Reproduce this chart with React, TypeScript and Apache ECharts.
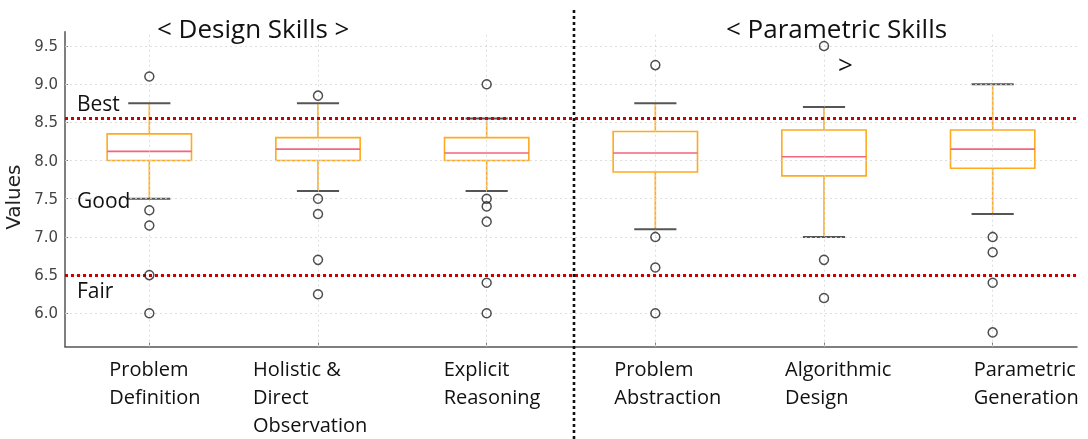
import React, { useEffect, useRef } from "react";
import * as echarts from "echarts";

// ---------- data ----------
const categories = [
  "Problem\nDefinition",
  "Holistic &\nDirect\nObservation",
  "Explicit\nReasoning",
  "Problem\nAbstraction",
  "Algorithmic\nDesign",
  "Parametric\nGeneration",
];
const lowerWhisker = [7.5, 7.6, 7.6, 7.1, 7.0, 7.3];
const q1 = [8.0, 8.0, 8.0, 7.85, 7.8, 7.9];
const median = [8.12, 8.15, 8.1, 8.1, 8.05, 8.15];
const q3 = [8.35, 8.3, 8.3, 8.38, 8.4, 8.4];
const upperWhisker = [8.75, 8.75, 8.55, 8.75, 8.7, 9.0];
const outliers = [
  [9.1, 7.35, 7.15, 6.5, 6.0],
  [8.85, 7.5, 7.3, 6.7, 6.25],
  [9.0, 7.5, 7.4, 7.2, 6.4, 6.0],
  [9.25, 7.0, 6.6, 6.0],
  [9.5, 6.7, 6.2],
  [7.0, 6.8, 6.4, 5.75],
];
const yTicks = [6.0, 6.5, 7.0, 7.5, 8.0, 8.5, 9.0, 9.5];
const yMin = 5.5625;
const yMax = 9.6875;
const bestLevel = 8.56;
const fairLevel = 6.5;
const levelLabels = ["Best", "Good", "Fair"];
const levelLabelValues = [8.75, 7.48, 6.31];
const groupTitles = ["< Design Skills >", "< Parametric Skills", ">"];

// ---------- layout / style ----------
const labelOffsets = [-40, -65, -43, -41, -39, -19];
const ORANGE = "#FFAA1F";
const MEDIAN = "#F2667E";
const CAP = "#555555";
const FONT = "'Open Sans', sans-serif";

export default function App() {
  const ref = useRef<HTMLDivElement>(null);

  useEffect(() => {
    if (!ref.current) return;
    const chart = echarts.init(ref.current, null, { renderer: "svg" });

    const boxData = categories.map((_, i) => [
      i,
      lowerWhisker[i],
      q1[i],
      median[i],
      q3[i],
      upperWhisker[i],
    ]);
    const flierData: number[][] = [];
    outliers.forEach((arr, i) => arr.forEach((v) => flierData.push([i, v])));

    const option: any = {
      animation: false,
      textStyle: { fontFamily: FONT },
      grid: {
        left: 65,
        right: 11,
        top: 31.7,
        bottom: 92.3,
        containLabel: false,
        outerBoundsMode: "none",
      },
      xAxis: {
        type: "category",
        data: categories,
        boundaryGap: true,
        axisLine: { show: true, lineStyle: { color: "#555", width: 1.5 } },
        axisTick: {
          show: true,
          alignWithLabel: true,
          inside: true,
          length: 4,
          lineStyle: { color: "#777" },
        },
        axisLabel: { show: false },
        splitLine: { show: false },
      },
      yAxis: {
        type: "value",
        min: yMin,
        max: yMax,
        name: "Values",
        nameLocation: "middle",
        nameGap: 31,
        nameTextStyle: {
          fontSize: 20,
          color: "#222",
          fontFamily: "DejaVu Sans",
          padding: [0, 16, 0, 0],
        },
        axisLine: { show: true, lineStyle: { color: "#555", width: 1.5 } },
        axisTick: {
          show: true,
          inside: true,
          length: 3,
          customValues: yTicks,
          lineStyle: { color: "#777" },
        },
        axisLabel: {
          customValues: yTicks,
          formatter: (v: number) => v.toFixed(1),
          fontSize: 15,
          color: "#444",
          fontFamily: "DejaVu Sans",
          margin: 7,
        },
        splitLine: { show: false },
      },
      series: [
        {
          type: "scatter",
          name: "grid",
          data: [],
          z: 1,
          silent: true,
          markLine: {
            silent: true,
            symbol: ["none", "none"],
            label: { show: false },
            lineStyle: { color: "#d6d6d6", type: [2, 3], width: 0.8 },
            data: [
              ...yTicks.map((v) => ({ yAxis: v })),
              ...categories.map((_, i) => ({ xAxis: i })),
            ],
          },
        },
        {
          type: "scatter",
          name: "levels",
          data: [],
          z: 3,
          silent: true,
          markLine: {
            silent: true,
            symbol: ["none", "none"],
            label: { show: false },
            lineStyle: { color: "#CC0000", type: [3, 3], width: 3 },
            data: [{ yAxis: bestLevel }, { yAxis: fairLevel }],
          },
        },
        {
          type: "custom",
          name: "box",
          z: 4,
          data: boxData,
          encode: { x: 0, y: [1, 2, 3, 4, 5] },
          renderItem: (params: any, api: any) => {
            const i = api.value(0);
            const low = api.coord([i, api.value(1)]);
            const b1 = api.coord([i, api.value(2)]);
            const md = api.coord([i, api.value(3)]);
            const b3 = api.coord([i, api.value(4)]);
            const high = api.coord([i, api.value(5)]);
            const band = api.size([1, 0])[0];
            const hb = band * 0.25;
            const hc = band * 0.125;
            const cx = low[0];
            return {
              type: "group",
              children: [
                {
                  type: "line",
                  shape: { x1: cx, y1: b3[1], x2: cx, y2: high[1] },
                  style: { stroke: ORANGE, lineWidth: 1.6 },
                },
                {
                  type: "line",
                  shape: { x1: cx, y1: b1[1], x2: cx, y2: low[1] },
                  style: { stroke: ORANGE, lineWidth: 1.6 },
                },
                {
                  type: "rect",
                  shape: { x: cx - hb, y: b3[1], width: 2 * hb, height: b1[1] - b3[1] },
                  style: { fill: "none", stroke: ORANGE, lineWidth: 1.6 },
                },
                {
                  type: "line",
                  shape: { x1: cx - hb, y1: md[1], x2: cx + hb, y2: md[1] },
                  style: { stroke: MEDIAN, lineWidth: 1.6 },
                },
                {
                  type: "line",
                  shape: { x1: cx - hc, y1: high[1], x2: cx + hc, y2: high[1] },
                  style: { stroke: CAP, lineWidth: 2 },
                },
                {
                  type: "line",
                  shape: { x1: cx - hc, y1: low[1], x2: cx + hc, y2: low[1] },
                  style: { stroke: CAP, lineWidth: 2 },
                },
              ],
            };
          },
        },
        {
          type: "scatter",
          name: "outliers",
          z: 5,
          data: flierData,
          symbol: "circle",
          symbolSize: 9,
          itemStyle: { color: "rgba(0,0,0,0)", borderColor: "#222", borderWidth: 1.5 },
        },
      ],
    };

    chart.setOption(option);

    const px = (i: number) => chart.convertToPixel({ xAxisIndex: 0 }, i) as number;
    const py = (v: number) => chart.convertToPixel({ yAxisIndex: 0 }, v) as number;
    const dividerX = (px(2) + px(3)) / 2 + 3;

    const titleStyle = (x: number, y: number, text: string) => ({
      type: "text",
      silent: true,
      z: 10,
      style: {
        x,
        y,
        text,
        font: `26px ${FONT}`,
        fill: "#111",
        textAlign: "left",
        textVerticalAlign: "middle",
      },
    });

    const graphics: any[] = [
      {
        type: "line",
        silent: true,
        z: 10,
        shape: { x1: dividerX, y1: 10, x2: dividerX, y2: 439 },
        style: { stroke: "#111", lineWidth: 2.6, lineDash: [3, 3] },
      },
      ...categories.map((c, i) => ({
        type: "text",
        silent: true,
        z: 10,
        style: {
          x: px(i) + labelOffsets[i],
          y: 354,
          text: c,
          font: `20px ${FONT}`,
          lineHeight: 28,
          fill: "#111",
          textAlign: "left",
          textVerticalAlign: "top",
        },
      })),
      ...levelLabels.map((t, k) => ({
        type: "text",
        silent: true,
        z: 10,
        style: {
          x: 77,
          y: py(levelLabelValues[k]),
          text: t,
          font: `21px ${FONT}`,
          fill: "#111",
          textAlign: "left",
          textVerticalAlign: "middle",
        },
      })),
      titleStyle(157, 28, groupTitles[0]),
      titleStyle(726, 28, groupTitles[1]),
      titleStyle(838, 64, groupTitles[2]),
    ];
    chart.setOption({ graphic: graphics });

    return () => chart.dispose();
  }, []);

  return (
    <div
      ref={ref}
      style={{ position: "fixed", left: 0, top: 0, width: 1088, height: 439 }}
    />
  );
}
